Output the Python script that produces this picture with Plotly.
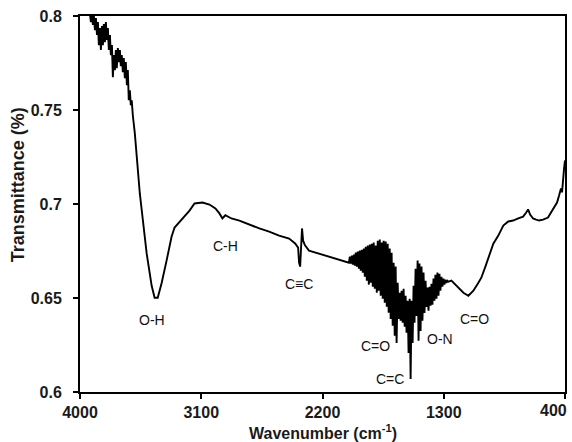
import plotly.graph_objects as go

wavenumber = [4000, 3960, 3935,
              3926, 3919, 3911, 3904, 3897, 3889, 3882, 3874, 3867, 3860, 3852, 3845, 3837, 3830,
              3823, 3815, 3808, 3800, 3793, 3786, 3778, 3771, 3763, 3756, 3749, 3741, 3734, 3727,
              3719, 3712, 3704, 3697, 3690, 3682, 3675, 3667, 3660, 3652, 3645, 3638, 3630, 3623,
              3616, 3608, 3593,
              3556, 3505, 3468, 3446, 3423, 3394, 3357, 3320, 3298, 3239, 3187, 3150, 3091, 3039,
              2995, 2965, 2943, 2921, 2876, 2817, 2743, 2669, 2596, 2522, 2448, 2403, 2381, 2374,
              2366, 2359, 2352, 2344, 2330, 2300, 2226, 2152, 2078, 2019,
              2004, 1997, 1989, 1982, 1975, 1967, 1960, 1953, 1945, 1938, 1930, 1923, 1916, 1908,
              1901, 1893, 1886, 1879, 1871, 1864, 1856, 1849, 1842, 1834, 1827, 1820, 1812, 1805,
              1797, 1790, 1783, 1775, 1768, 1760, 1753, 1746, 1738, 1731, 1723, 1716, 1709, 1701,
              1694, 1687, 1679, 1672, 1664, 1657, 1650, 1642, 1635, 1627, 1620, 1613, 1605, 1598,
              1590, 1583, 1576, 1568, 1561, 1553, 1546, 1539, 1531, 1524, 1517, 1509, 1502, 1494,
              1487, 1480, 1472, 1465, 1458, 1450, 1443, 1435, 1428, 1421, 1413, 1406, 1398, 1391,
              1384, 1376, 1369, 1362, 1354, 1347, 1339, 1332, 1325, 1317, 1310, 1302, 1295, 1288,
              1280, 1273, 1265,
              1243, 1221, 1191, 1154, 1117, 1080, 1043, 1021, 991, 962, 932, 895, 858, 821, 785,
              747, 711, 688, 674, 659, 637, 614, 592, 563, 526, 504, 481, 459, 444, 430, 422, 415,
              407, 400]
transmittance = [0.835, 0.818, 0.806,
                 0.8011, 0.7968, 0.8005, 0.7952, 0.8, 0.7925, 0.7989, 0.7899, 0.7968, 0.7845,
                 0.7936, 0.7819, 0.7947, 0.7845, 0.7957, 0.7861, 0.7968, 0.7872, 0.7936, 0.7819,
                 0.7899, 0.7792, 0.7845, 0.7675, 0.7792, 0.7712, 0.7819, 0.7723, 0.7829, 0.7755,
                 0.7819, 0.7733, 0.7792, 0.7701, 0.7776, 0.7669, 0.7755, 0.7632, 0.7712, 0.7552,
                 0.7605, 0.7525, 0.7552, 0.7472, 0.7376,
                 0.7056, 0.6736, 0.6565, 0.6501, 0.6501, 0.658, 0.670, 0.6827, 0.6875, 0.6923,
                 0.6965, 0.7003, 0.7008, 0.6997, 0.6976, 0.695, 0.6923, 0.694, 0.6923, 0.6912,
                 0.689, 0.687, 0.6853, 0.6832, 0.6816, 0.679, 0.6768, 0.6688, 0.6667, 0.6752,
                 0.687, 0.6805, 0.678, 0.6752, 0.6736, 0.672, 0.6704, 0.6688,
                 0.6688, 0.6720, 0.6683, 0.6725, 0.6677, 0.6731, 0.6672, 0.6741, 0.6667, 0.6747,
                 0.6656, 0.6752, 0.6645, 0.6757, 0.6635, 0.6763, 0.6613, 0.6773, 0.6592, 0.6779,
                 0.6571, 0.6784, 0.6581, 0.6789, 0.6560, 0.6795, 0.6549, 0.6779, 0.6528, 0.6805,
                 0.6539, 0.6811, 0.6512, 0.6795, 0.6496, 0.6805, 0.6475, 0.6800, 0.6453, 0.6789,
                 0.6421, 0.6763, 0.6389, 0.6741, 0.6352, 0.6688, 0.6299, 0.6667, 0.6261, 0.6581,
                 0.6389, 0.6528, 0.6379, 0.6539, 0.6368, 0.6549, 0.6347, 0.6512, 0.6315, 0.6485,
                 0.6208, 0.6496, 0.6069, 0.6485, 0.6261, 0.6565, 0.6368, 0.6656, 0.6405, 0.6699,
                 0.6272, 0.6683, 0.6325, 0.6667, 0.6379, 0.6635, 0.6421, 0.6592, 0.6453, 0.6555,
                 0.6432, 0.6560, 0.6459, 0.6576, 0.6464, 0.6603, 0.6485, 0.6624, 0.6496, 0.6635,
                 0.6512, 0.6629, 0.6539, 0.6613, 0.6560, 0.6603, 0.6571, 0.6597, 0.6581, 0.6592,
                 0.6587,
                 0.6592, 0.6576, 0.6555, 0.6528, 0.6512, 0.6539, 0.6581, 0.6608, 0.6667, 0.6725,
                 0.6789, 0.6832, 0.6885, 0.6907, 0.6912, 0.6923, 0.6933, 0.6955, 0.6971, 0.6944,
                 0.6923, 0.6917, 0.6912, 0.6917, 0.6928, 0.6955, 0.6981, 0.7008, 0.7045, 0.7083,
                 0.7062, 0.7141, 0.7189, 0.7232]

ytick_vals = [0.6, 0.65, 0.7, 0.75, 0.8]
ytick_text = ["0.6", "0.65", "0.7", "0.75", "0.8"]
xtick_vals = [4000, 3100, 2200, 1300, 400]
xtick_text = ["4000", "3100", "2200", "1300", ""]
edge_tick_value = 400
edge_tick_text = "400"

band_labels = ["O-H", "C-H", "C≡C", "C=O", "C=C", "O-N", "C=O"]
band_x = [3468, 2921, 2374, 1805, 1701, 1331, 1073]
band_y = [0.6385, 0.6779, 0.6576, 0.6245, 0.6069, 0.6283, 0.6389]

FONT = "Liberation Sans, Arial"

fig = go.Figure()
fig.add_trace(go.Scatter(x=wavenumber, y=transmittance, mode="lines",
                         line=dict(color="black", width=1.9), showlegend=False))

for lab, bx, by in zip(band_labels, band_x, band_y):
    fig.add_annotation(x=bx, y=by, xref="x", yref="y", text=lab, showarrow=False,
                       font=dict(family=FONT, size=14, color="#111111"))

axis_font = dict(family=FONT, size=16, color="#1a1a1a", weight="bold")

# right-most tick label kept inside the page, as in the reference
fig.add_annotation(x=edge_tick_value, y=-0.048, xref="x", yref="paper", text=edge_tick_text,
                   showarrow=False, xanchor="right", yanchor="middle", xshift=4,
                   font=axis_font)

fig.add_annotation(x=-0.1273, y=0.5505, xref="paper", yref="paper", text="<b>Transmittance (%)</b>",
                   textangle=-90, showarrow=False, xanchor="center", yanchor="middle",
                   font=dict(family=FONT, size=18, color="#1a1a1a"))
fig.add_annotation(x=0.5, y=-0.1064, xref="paper", yref="paper",
                   text="<b>Wavenumber (cm<sup>-1</sup>)</b>", showarrow=False,
                   xanchor="center", yanchor="middle",
                   font=dict(family=FONT, size=16, color="#1a1a1a"))

fig.update_xaxes(range=[4000, 400], tickvals=xtick_vals, ticktext=xtick_text,
                 showgrid=False, zeroline=False, showline=True, linecolor="black", linewidth=2,
                 mirror=True, ticks="outside", ticklen=5, tickwidth=2, tickcolor="black",
                 tickfont=axis_font)
fig.update_yaxes(range=[0.6, 0.8], tickvals=ytick_vals, ticktext=ytick_text,
                 showgrid=False, zeroline=False, showline=True, linecolor="black", linewidth=2,
                 mirror=True, ticks="outside", ticklen=5, tickwidth=2, tickcolor="black",
                 tickfont=axis_font, ticklabelstandoff=8)
fig.update_layout(width=572, height=442, margin=dict(l=80, r=5, t=16, b=50),
                  plot_bgcolor="white", paper_bgcolor="white")
fig.write_html("out.html")
